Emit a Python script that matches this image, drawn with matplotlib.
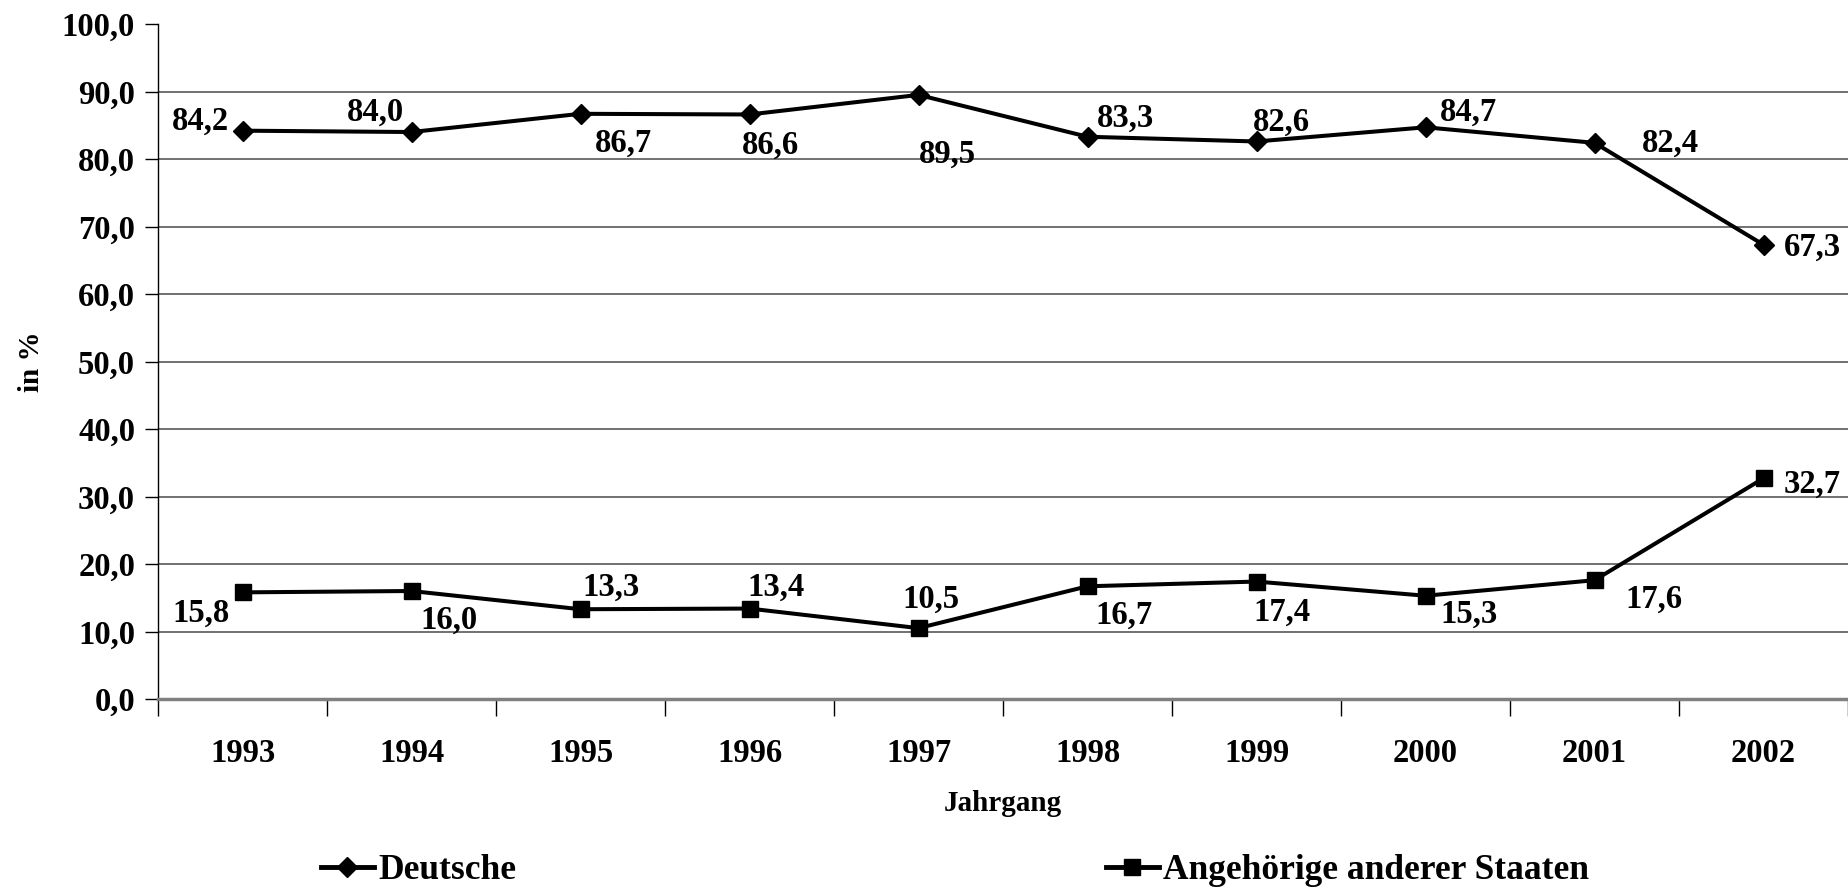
import matplotlib
matplotlib.use("Agg")
import matplotlib.pyplot as plt
from matplotlib.ticker import FixedLocator, FuncFormatter
from matplotlib.lines import Line2D

years = ["1993", "1994", "1995", "1996", "1997", "1998", "1999", "2000", "2001", "2002"]
deutsche = [84.2, 84.0, 86.7, 86.6, 89.5, 83.3, 82.6, 84.7, 82.4, 67.3]
andere = [15.8, 16.0, 13.3, 13.4, 10.5, 16.7, 17.4, 15.3, 17.6, 32.7]
series_names = ["Deutsche", "Angehörige anderer Staaten"]

# label offsets in points (style)
off_d = [(-30, 7), (-26, 14), (31, -21), (15, -22), (21, -43), (27, 13), (18, 14), (31, 11), (55, 0), (35, -2)]
off_a = [(-30, -15), (27, -21), (22, 16), (19, 15), (9, 21), (26, -21), (18, -22), (31, -13), (43, -14), (35, -4)]

plt.rcParams['font.family'] = ['Liberation Serif', 'DejaVu Serif']
plt.rcParams['font.weight'] = 'bold'

fig = plt.figure(figsize=(18.48, 8.90), dpi=100)
ax = fig.add_axes([0.0855, 0.2146, 0.9145, 0.7584])

x = list(range(len(years)))
ax.plot(x, deutsche, color='black', lw=2.9, marker='D', ms=10, zorder=3)
ax.plot(x, andere, color='black', lw=2.9, marker='s', ms=11.5, zorder=3)

fs = 23.5
def fmt(v):
    return f"{v:.1f}".replace('.', ',')

for xi, v, o in zip(x, deutsche, off_d):
    ax.annotate(fmt(v), (xi, v), xytext=o, textcoords='offset points',
                ha='center', va='center', fontsize=fs, fontweight='bold')
for xi, v, o in zip(x, andere, off_a):
    ax.annotate(fmt(v), (xi, v), xytext=o, textcoords='offset points',
                ha='center', va='center', fontsize=fs, fontweight='bold')

ax.set_xlim(-0.5, len(years) - 0.5)
ax.set_ylim(0, 100)
ax.yaxis.set_major_locator(FixedLocator([i * 10 for i in range(11)]))
ax.yaxis.set_major_formatter(FuncFormatter(lambda v, p: fmt(v)))
ax.tick_params(axis='y', labelsize=fs, length=9.5, width=1, direction='out', pad=7)
for lab in ax.get_yticklabels():
    lab.set_fontweight('bold')

ax.xaxis.set_major_locator(FixedLocator([i + 0.5 for i in range(-1, len(years))]))
ax.xaxis.set_major_formatter(FuncFormatter(lambda v, p: ""))
ax.xaxis.set_minor_locator(FixedLocator(x))
ax.set_xticklabels(years, minor=True)
ax.tick_params(axis='x', which='major', length=12, width=1, direction='out')
ax.tick_params(axis='x', which='minor', length=0, labelsize=fs, pad=28)
for lab in ax.get_xticklabels(minor=True):
    lab.set_fontweight('bold')

for yv in range(10, 100, 10):
    ax.axhline(yv, color='#666666', lw=1.3, zorder=1)

for s in ['top', 'right']:
    ax.spines[s].set_visible(False)
ax.spines['left'].set_linewidth(1)
ax.spines['bottom'].set_color('#808080')
ax.spines['bottom'].set_linewidth(2.5)

ax.set_xlabel("Jahrgang", fontsize=21, fontweight='bold', labelpad=15)
ax.set_ylabel("in %", fontsize=21, fontweight='bold', labelpad=12)

handles = [Line2D([], [], color='black', lw=3.5, marker='D', ms=10),
           Line2D([], [], color='black', lw=3.5, marker='s', ms=11.5)]
leg = fig.legend(handles, series_names, loc='center left', bbox_to_anchor=(0.164, 0.022),
                 ncol=2, frameon=False, handlelength=1.5, handletextpad=0.12,
                 columnspacing=16.65, prop={'weight': 'bold', 'size': 25.5}, borderpad=0)

fig.savefig("out.png", dpi=100)
